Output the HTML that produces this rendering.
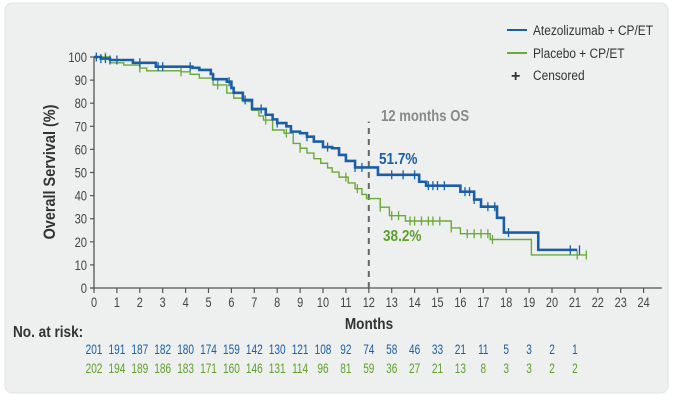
<!DOCTYPE html>
<html><head><meta charset="utf-8">
<style>
html,body{margin:0;padding:0;background:#fff;}
body{width:676px;height:400px;overflow:hidden;font-family:"Liberation Sans",sans-serif;}
svg text{font-family:"Liberation Sans",sans-serif;}
</style></head>
<body>
<svg id="chart" width="676" height="400" viewBox="0 0 676 400">
<rect x="5" y="3" width="663" height="390" rx="7" fill="#eeefef" stroke="#e2e3e3"/>
<g id="axes"></g>
<g id="series"></g>
<g id="risk"></g>
<g>
 <line x1="507" y1="30" x2="527" y2="30" stroke="#1a5fa6" stroke-width="2"/>
 <text transform="translate(533,35) scale(0.85,1)" font-size="14" fill="#333">Atezolizumab + CP/ET</text>
 <line x1="507" y1="53" x2="527" y2="53" stroke="#6aaa3a" stroke-width="2"/>
 <text transform="translate(533,58) scale(0.85,1)" font-size="14" fill="#333">Placebo + CP/ET</text>
 <text x="511" y="81" font-size="16" font-weight="bold" fill="#333">+</text>
 <text transform="translate(533,80) scale(0.85,1)" font-size="14" fill="#333">Censored</text>
</g>
<text transform="translate(381,121) scale(0.82,1)" font-size="16" font-weight="bold" fill="#888">12 months OS</text>
<text transform="translate(379,164) scale(0.85,1)" font-size="16" font-weight="bold" fill="#1a5fa6">51.7%</text>
<text transform="translate(383,241) scale(0.85,1)" font-size="16" font-weight="bold" fill="#5ea02c">38.2%</text>
<text transform="translate(55,172) rotate(-90) scale(0.85,1)" text-anchor="middle" font-size="17" font-weight="bold" fill="#333">Overall Servival (%)</text>
<text transform="translate(369,329) scale(0.85,1)" text-anchor="middle" font-size="16" font-weight="bold" fill="#333">Months</text>
<text transform="translate(13,337) scale(0.85,1)" font-size="16" font-weight="bold" fill="#333">No. at risk:</text>
</svg>
<script>
const yTicks=[0,10,20,30,40,50,60,70,80,90,100];
const xTicks=[0,1,2,3,4,5,6,7,8,9,10,11,12,13,14,15,16,17,18,19,20,21,22,23,24];
const atezoTimes=[0,0.3,0.7,1.7,2.7,4.3,4.6,5.1,5.2,5.8,6.0,6.1,6.5,6.9,7.5,7.8,8.0,8.4,8.6,9.0,9.3,9.6,10.0,10.4,10.7,11.0,11.4,12.4,14.2,14.5,16.0,16.6,16.9,17.6,17.9,19.4,21.1];
const atezoSurv=[100,99.3,98.7,97.5,95.8,95.3,94.4,92.6,90.4,89.3,86.6,84.5,81.4,77.5,75,73,71.4,70,67.7,67,65.5,63.4,61,60.5,57.6,55,52.2,49,46,44.3,41.7,38.3,35.2,30.4,24,16.5,16.5];
const placeboTimes=[0,0.7,1.3,2.0,2.3,3.8,4.2,4.6,5.2,5.8,6.1,6.5,6.9,7.2,7.4,7.8,8.3,8.7,9.0,9.3,9.6,9.9,10.2,10.4,10.7,11.1,11.4,11.7,11.9,12.5,12.9,13.6,15.6,16.0,17.3,19.1,21.5];
const placeboSurv=[100,97.5,96.5,95.2,94,93.6,92.5,90.9,87.9,84.4,82.2,80.7,76.9,74.5,72.7,68.4,67,62.6,60.5,58.4,56,54,52,50.2,48,45.5,43,40.5,38.7,35,31.3,29,26,23.5,21,14.3,14.3];
const atezoCensor=[0.1,0.3,0.5,0.7,1,2,2.8,3,4.2,5.9,6.6,7.3,8.0,9.3,10.2,11.4,11.7,13.0,13.5,14.0,14.6,14.8,15.0,15.3,16.2,16.4,16.6,17.2,17.5,18.1,20.8,21.2];
const placeboCensor=[0.5,2,3.8,5.4,7.5,8.4,9.0,11.0,11.5,12.5,13.0,13.3,13.8,14.0,14.3,14.6,14.8,15.1,15.6,16.3,16.6,16.9,17.2,17.4,21.1,21.5];
const atRiskAtezo=[201,191,187,182,180,174,159,142,130,121,108,92,74,58,46,33,21,11,5,3,2,1];
const atRiskPlacebo=[202,194,189,186,183,171,160,146,131,114,96,81,59,36,27,21,13,8,3,3,2,2];

const NS='http://www.w3.org/2000/svg';
const X=t=>94+t*22.9;
const Y=v=>288-v*2.31;
function mk(tag,attrs,parent,text){const e=document.createElementNS(NS,tag);for(const k in attrs)e.setAttribute(k,attrs[k]);if(text!==undefined)e.textContent=text;parent.appendChild(e);return e;}
function survAt(times,surv,t){let v=surv[0];for(let i=0;i<times.length;i++){if(times[i]<=t)v=surv[i];}return v;}

const axes=document.getElementById('axes');
let ax=mk('line',{x1:X(0),y1:Y(0),x2:X(0),y2:Y(100),stroke:'#555','stroke-width':1.3},axes);


let xa=mk('line',{x1:X(0)-4,y1:Y(0),x2:X(24.8),y2:Y(0),stroke:'#555','stroke-width':1.3},axes);


yTicks.forEach(v=>{
  mk('line',{x1:X(0)-4,y1:Y(v),x2:X(0),y2:Y(v),stroke:'#555','stroke-width':1.2},axes);
  const t=mk('text',{transform:'translate('+(X(0)-7)+','+(Y(v)+5)+') scale(0.8,1)','text-anchor':'end','font-size':14,fill:'#444'},axes,String(v));
  
  
});
xTicks.forEach(v=>{
  mk('line',{x1:X(v),y1:Y(0),x2:X(v),y2:Y(0)+5,stroke:'#555','stroke-width':1.2},axes);
  const t=mk('text',{transform:'translate('+X(v)+','+(Y(0)+19)+') scale(0.78,1)','text-anchor':'middle','font-size':14,fill:'#444'},axes,String(v));
  
  
});
const dl=mk('line',{x1:X(12),y1:Y(0),x2:X(12),y2:Y(72),stroke:'#666','stroke-width':2,'stroke-dasharray':'6,5'},axes);



const series=document.getElementById('series');
function drawSeries(times,surv,censor,color,w,name){
  let d='M'+X(times[0])+','+Y(surv[0]);
  for(let i=1;i<times.length;i++){d+=' H'+X(times[i])+' V'+Y(surv[i]);}
  const p=mk('path',{d:d,fill:'none',stroke:color,'stroke-width':w},series);
  
  
  censor.forEach(t=>{
    const y=Y(survAt(times,surv,t));
    const c=mk('line',{x1:X(t),y1:y-4.5,x2:X(t),y2:y+4.5,stroke:color,'stroke-width':1.3},series);
    
    
  });
}
drawSeries(placeboTimes,placeboSurv,placeboCensor,'#6aaa3a',1.4,'placebo');
drawSeries(atezoTimes,atezoSurv,atezoCensor,'#1a5fa6',2.6,'atezolizumab');

const risk=document.getElementById('risk');
atRiskAtezo.forEach((n,i)=>{
  const t=mk('text',{transform:'translate('+X(i)+',354) scale(0.72,1)','text-anchor':'middle','font-size':14,fill:'#1a5fa6'},risk,String(n));
  
  
});
atRiskPlacebo.forEach((n,i)=>{
  const t=mk('text',{transform:'translate('+X(i)+',373) scale(0.72,1)','text-anchor':'middle','font-size':14,fill:'#5ea02c'},risk,String(n));
  
  
});
</script>
</body></html>
